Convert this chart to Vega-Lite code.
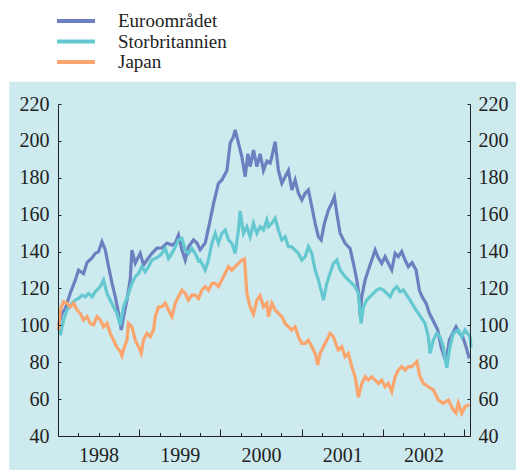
{
  "$schema": "https://vega.github.io/schema/vega-lite/v6.json",
  "width": 412,
  "height": 332,
  "autosize": {"type": "none"},
  "padding": {"left": 58, "top": 104, "right": 46, "bottom": 34},
  "background": "white",
  "config": {
    "font": "Liberation Serif",
    "view": {"stroke": null},
    "axis": {"domainColor": "#222", "tickColor": "#222", "labelFont": "Liberation Serif", "labelFontSize": 20, "labelColor": "#222", "grid": false, "labelFlush": false, "labelOverlap": false},
    "legend": {"labelFont": "Liberation Serif"}
  },
  "datasets": {
    "panel": [{"name": "panel"}],
    "series": [
{"serie":"Euroområdet","t":1998.007,"v":100},{"serie":"Euroområdet","t":1998.049,"v":106.5},{"serie":"Euroområdet","t":1998.090,"v":109},{"serie":"Euroområdet","t":1998.151,"v":117.5},{"serie":"Euroområdet","t":1998.213,"v":124.5},{"serie":"Euroområdet","t":1998.253,"v":130},{"serie":"Euroområdet","t":1998.315,"v":128},{"serie":"Euroområdet","t":1998.357,"v":134},{"serie":"Euroområdet","t":1998.418,"v":136.5},{"serie":"Euroområdet","t":1998.459,"v":139},{"serie":"Euroområdet","t":1998.499,"v":140},{"serie":"Euroområdet","t":1998.541,"v":145.3},{"serie":"Euroområdet","t":1998.582,"v":141},{"serie":"Euroområdet","t":1998.622,"v":131.8},{"serie":"Euroområdet","t":1998.664,"v":123},{"serie":"Euroområdet","t":1998.705,"v":115.5},{"serie":"Euroområdet","t":1998.745,"v":106.6},{"serie":"Euroområdet","t":1998.779,"v":97.5},{"serie":"Euroområdet","t":1998.807,"v":104.7},{"serie":"Euroområdet","t":1998.849,"v":113.7},{"serie":"Euroområdet","t":1998.889,"v":125},{"serie":"Euroområdet","t":1998.910,"v":140.8},{"serie":"Euroområdet","t":1998.951,"v":133.7},{"serie":"Euroområdet","t":1999.012,"v":139},{"serie":"Euroområdet","t":1999.053,"v":132.7},{"serie":"Euroområdet","t":1999.095,"v":135.4},{"serie":"Euroområdet","t":1999.156,"v":139},{"serie":"Euroområdet","t":1999.218,"v":141.9},{"serie":"Euroområdet","t":1999.279,"v":142},{"serie":"Euroområdet","t":1999.341,"v":144.6},{"serie":"Euroområdet","t":1999.402,"v":143.5},{"serie":"Euroområdet","t":1999.443,"v":144.6},{"serie":"Euroområdet","t":1999.483,"v":149},{"serie":"Euroområdet","t":1999.525,"v":141},{"serie":"Euroområdet","t":1999.566,"v":135.4},{"serie":"Euroområdet","t":1999.606,"v":142.6},{"serie":"Euroområdet","t":1999.668,"v":146.3},{"serie":"Euroområdet","t":1999.710,"v":144.6},{"serie":"Euroområdet","t":1999.750,"v":141},{"serie":"Euroområdet","t":1999.812,"v":144.6},{"serie":"Euroområdet","t":1999.873,"v":157},{"serie":"Euroområdet","t":1999.914,"v":166},{"serie":"Euroområdet","t":1999.975,"v":177},{"serie":"Euroområdet","t":2000.017,"v":178.8},{"serie":"Euroområdet","t":2000.079,"v":184},{"serie":"Euroområdet","t":2000.119,"v":198.8},{"serie":"Euroområdet","t":2000.160,"v":202.3},{"serie":"Euroområdet","t":2000.181,"v":206},{"serie":"Euroområdet","t":2000.221,"v":198.8},{"serie":"Euroområdet","t":2000.263,"v":191.4},{"serie":"Euroområdet","t":2000.304,"v":180.6},{"serie":"Euroområdet","t":2000.337,"v":193},{"serie":"Euroområdet","t":2000.365,"v":186},{"serie":"Euroområdet","t":2000.406,"v":195},{"serie":"Euroområdet","t":2000.448,"v":186},{"serie":"Euroområdet","t":2000.488,"v":193},{"serie":"Euroområdet","t":2000.529,"v":184},{"serie":"Euroområdet","t":2000.571,"v":189},{"serie":"Euroområdet","t":2000.611,"v":188},{"serie":"Euroområdet","t":2000.632,"v":191.4},{"serie":"Euroområdet","t":2000.673,"v":199.6},{"serie":"Euroområdet","t":2000.713,"v":184},{"serie":"Euroområdet","t":2000.755,"v":177},{"serie":"Euroområdet","t":2000.796,"v":180.6},{"serie":"Euroområdet","t":2000.836,"v":184},{"serie":"Euroområdet","t":2000.878,"v":173.4},{"serie":"Euroområdet","t":2000.919,"v":178.8},{"serie":"Euroområdet","t":2000.959,"v":171.6},{"serie":"Euroområdet","t":2001.001,"v":168},{"serie":"Euroområdet","t":2001.042,"v":171.6},{"serie":"Euroområdet","t":2001.082,"v":173.4},{"serie":"Euroområdet","t":2001.124,"v":164.3},{"serie":"Euroområdet","t":2001.165,"v":155.3},{"serie":"Euroområdet","t":2001.205,"v":148},{"serie":"Euroområdet","t":2001.239,"v":146.3},{"serie":"Euroområdet","t":2001.279,"v":155.3},{"serie":"Euroområdet","t":2001.328,"v":162.5},{"serie":"Euroområdet","t":2001.370,"v":166.2},{"serie":"Euroområdet","t":2001.402,"v":169.7},{"serie":"Euroområdet","t":2001.432,"v":160.7},{"serie":"Euroområdet","t":2001.472,"v":150},{"serie":"Euroområdet","t":2001.534,"v":144.5},{"serie":"Euroområdet","t":2001.595,"v":141.7},{"serie":"Euroområdet","t":2001.636,"v":133.6},{"serie":"Euroområdet","t":2001.678,"v":124.6},{"serie":"Euroområdet","t":2001.706,"v":115.5},{"serie":"Euroområdet","t":2001.718,"v":105.6},{"serie":"Euroområdet","t":2001.739,"v":115.5},{"serie":"Euroområdet","t":2001.780,"v":124.6},{"serie":"Euroområdet","t":2001.820,"v":130},{"serie":"Euroområdet","t":2001.862,"v":135.4},{"serie":"Euroområdet","t":2001.903,"v":140.8},{"serie":"Euroområdet","t":2001.936,"v":137.2},{"serie":"Euroområdet","t":2001.985,"v":133.6},{"serie":"Euroområdet","t":2002.026,"v":137.2},{"serie":"Euroområdet","t":2002.066,"v":133.6},{"serie":"Euroområdet","t":2002.108,"v":130},{"serie":"Euroområdet","t":2002.149,"v":139},{"serie":"Euroområdet","t":2002.189,"v":137.2},{"serie":"Euroområdet","t":2002.231,"v":140},{"serie":"Euroområdet","t":2002.272,"v":135.4},{"serie":"Euroområdet","t":2002.312,"v":131.8},{"serie":"Euroområdet","t":2002.358,"v":134},{"serie":"Euroområdet","t":2002.407,"v":130},{"serie":"Euroområdet","t":2002.448,"v":119},{"serie":"Euroområdet","t":2002.487,"v":115},{"serie":"Euroområdet","t":2002.530,"v":112},{"serie":"Euroområdet","t":2002.571,"v":106.5},{"serie":"Euroområdet","t":2002.613,"v":102.9},{"serie":"Euroområdet","t":2002.674,"v":97.5},{"serie":"Euroområdet","t":2002.715,"v":88.4},{"serie":"Euroområdet","t":2002.755,"v":83},{"serie":"Euroområdet","t":2002.776,"v":80},{"serie":"Euroområdet","t":2002.817,"v":92},{"serie":"Euroområdet","t":2002.859,"v":95.7},{"serie":"Euroområdet","t":2002.899,"v":99.2},{"serie":"Euroområdet","t":2002.940,"v":95.7},{"serie":"Euroområdet","t":2002.982,"v":93.8},{"serie":"Euroområdet","t":2003.022,"v":88.4},{"serie":"Euroområdet","t":2003.063,"v":82},
{"serie":"Storbritannien","t":1998.007,"v":99.2},{"serie":"Storbritannien","t":1998.028,"v":94.7},{"serie":"Storbritannien","t":1998.069,"v":102.9},{"serie":"Storbritannien","t":1998.111,"v":108.3},{"serie":"Storbritannien","t":1998.172,"v":112},{"serie":"Storbritannien","t":1998.213,"v":113.7},{"serie":"Storbritannien","t":1998.253,"v":114.6},{"serie":"Storbritannien","t":1998.295,"v":116.4},{"serie":"Storbritannien","t":1998.336,"v":115.5},{"serie":"Storbritannien","t":1998.376,"v":117.3},{"serie":"Storbritannien","t":1998.418,"v":115.5},{"serie":"Storbritannien","t":1998.459,"v":118.2},{"serie":"Storbritannien","t":1998.520,"v":121},{"serie":"Storbritannien","t":1998.561,"v":124.6},{"serie":"Storbritannien","t":1998.603,"v":117.3},{"serie":"Storbritannien","t":1998.643,"v":113.7},{"serie":"Storbritannien","t":1998.684,"v":110},{"serie":"Storbritannien","t":1998.726,"v":106.5},{"serie":"Storbritannien","t":1998.766,"v":100},{"serie":"Storbritannien","t":1998.807,"v":110},{"serie":"Storbritannien","t":1998.849,"v":115},{"serie":"Storbritannien","t":1998.889,"v":120},{"serie":"Storbritannien","t":1998.910,"v":122.8},{"serie":"Storbritannien","t":1998.951,"v":126.4},{"serie":"Storbritannien","t":1998.991,"v":128.2},{"serie":"Storbritannien","t":1999.033,"v":131.8},{"serie":"Storbritannien","t":1999.074,"v":129},{"serie":"Storbritannien","t":1999.114,"v":131.8},{"serie":"Storbritannien","t":1999.156,"v":135.4},{"serie":"Storbritannien","t":1999.197,"v":136.3},{"serie":"Storbritannien","t":1999.237,"v":137.2},{"serie":"Storbritannien","t":1999.279,"v":139},{"serie":"Storbritannien","t":1999.320,"v":141.7},{"serie":"Storbritannien","t":1999.360,"v":136.3},{"serie":"Storbritannien","t":1999.402,"v":139},{"serie":"Storbritannien","t":1999.443,"v":142.6},{"serie":"Storbritannien","t":1999.483,"v":146.3},{"serie":"Storbritannien","t":1999.525,"v":147.2},{"serie":"Storbritannien","t":1999.566,"v":140.8},{"serie":"Storbritannien","t":1999.606,"v":139},{"serie":"Storbritannien","t":1999.648,"v":141.7},{"serie":"Storbritannien","t":1999.689,"v":139},{"serie":"Storbritannien","t":1999.729,"v":135},{"serie":"Storbritannien","t":1999.750,"v":135.4},{"serie":"Storbritannien","t":1999.812,"v":130},{"serie":"Storbritannien","t":1999.852,"v":135.4},{"serie":"Storbritannien","t":1999.894,"v":144.5},{"serie":"Storbritannien","t":1999.935,"v":149.9},{"serie":"Storbritannien","t":1999.975,"v":144.5},{"serie":"Storbritannien","t":2000.017,"v":149.9},{"serie":"Storbritannien","t":2000.058,"v":151.7},{"serie":"Storbritannien","t":2000.098,"v":146.3},{"serie":"Storbritannien","t":2000.140,"v":144.5},{"serie":"Storbritannien","t":2000.181,"v":139},{"serie":"Storbritannien","t":2000.221,"v":151.7},{"serie":"Storbritannien","t":2000.242,"v":162},{"serie":"Storbritannien","t":2000.283,"v":149.9},{"serie":"Storbritannien","t":2000.325,"v":153.5},{"serie":"Storbritannien","t":2000.365,"v":148},{"serie":"Storbritannien","t":2000.406,"v":155.3},{"serie":"Storbritannien","t":2000.448,"v":149.9},{"serie":"Storbritannien","t":2000.488,"v":153.5},{"serie":"Storbritannien","t":2000.529,"v":151.7},{"serie":"Storbritannien","t":2000.571,"v":157.1},{"serie":"Storbritannien","t":2000.590,"v":153.5},{"serie":"Storbritannien","t":2000.632,"v":155.3},{"serie":"Storbritannien","t":2000.673,"v":158},{"serie":"Storbritannien","t":2000.713,"v":151.7},{"serie":"Storbritannien","t":2000.755,"v":146.3},{"serie":"Storbritannien","t":2000.796,"v":148},{"serie":"Storbritannien","t":2000.836,"v":142.6},{"serie":"Storbritannien","t":2000.878,"v":142.6},{"serie":"Storbritannien","t":2000.919,"v":140.8},{"serie":"Storbritannien","t":2000.959,"v":139},{"serie":"Storbritannien","t":2001.001,"v":135.4},{"serie":"Storbritannien","t":2001.042,"v":137.2},{"serie":"Storbritannien","t":2001.082,"v":142.6},{"serie":"Storbritannien","t":2001.124,"v":139},{"serie":"Storbritannien","t":2001.165,"v":130},{"serie":"Storbritannien","t":2001.205,"v":124.6},{"serie":"Storbritannien","t":2001.247,"v":117.3},{"serie":"Storbritannien","t":2001.267,"v":113.7},{"serie":"Storbritannien","t":2001.309,"v":122.8},{"serie":"Storbritannien","t":2001.349,"v":128.2},{"serie":"Storbritannien","t":2001.390,"v":133.6},{"serie":"Storbritannien","t":2001.432,"v":135.4},{"serie":"Storbritannien","t":2001.472,"v":130},{"serie":"Storbritannien","t":2001.534,"v":126.4},{"serie":"Storbritannien","t":2001.574,"v":124.6},{"serie":"Storbritannien","t":2001.616,"v":122.8},{"serie":"Storbritannien","t":2001.657,"v":121},{"serie":"Storbritannien","t":2001.697,"v":117.3},{"serie":"Storbritannien","t":2001.730,"v":101},{"serie":"Storbritannien","t":2001.759,"v":110},{"serie":"Storbritannien","t":2001.801,"v":113.7},{"serie":"Storbritannien","t":2001.841,"v":115.5},{"serie":"Storbritannien","t":2001.882,"v":117.3},{"serie":"Storbritannien","t":2001.924,"v":119.1},{"serie":"Storbritannien","t":2001.964,"v":120},{"serie":"Storbritannien","t":2002.005,"v":119.1},{"serie":"Storbritannien","t":2002.047,"v":117.3},{"serie":"Storbritannien","t":2002.087,"v":115.5},{"serie":"Storbritannien","t":2002.128,"v":119.1},{"serie":"Storbritannien","t":2002.170,"v":121},{"serie":"Storbritannien","t":2002.210,"v":118.2},{"serie":"Storbritannien","t":2002.251,"v":119.1},{"serie":"Storbritannien","t":2002.293,"v":116.4},{"serie":"Storbritannien","t":2002.333,"v":113.7},{"serie":"Storbritannien","t":2002.382,"v":110},{"serie":"Storbritannien","t":2002.435,"v":106.5},{"serie":"Storbritannien","t":2002.518,"v":101},{"serie":"Storbritannien","t":2002.558,"v":93.8},{"serie":"Storbritannien","t":2002.579,"v":84.8},{"serie":"Storbritannien","t":2002.620,"v":92},{"serie":"Storbritannien","t":2002.662,"v":95.7},{"serie":"Storbritannien","t":2002.702,"v":93.8},{"serie":"Storbritannien","t":2002.743,"v":88.4},{"serie":"Storbritannien","t":2002.785,"v":77},{"serie":"Storbritannien","t":2002.825,"v":88.4},{"serie":"Storbritannien","t":2002.866,"v":95.7},{"serie":"Storbritannien","t":2002.927,"v":97.5},{"serie":"Storbritannien","t":2002.969,"v":93.8},{"serie":"Storbritannien","t":2003.010,"v":97.5},{"serie":"Storbritannien","t":2003.071,"v":93.8},{"serie":"Storbritannien","t":2003.085,"v":88},
{"serie":"Japan","t":1998.007,"v":97.5},{"serie":"Japan","t":1998.028,"v":108.3},{"serie":"Japan","t":1998.069,"v":112.8},{"serie":"Japan","t":1998.111,"v":112},{"serie":"Japan","t":1998.151,"v":110},{"serie":"Japan","t":1998.192,"v":112},{"serie":"Japan","t":1998.234,"v":108.3},{"serie":"Japan","t":1998.274,"v":106.5},{"serie":"Japan","t":1998.315,"v":102.9},{"serie":"Japan","t":1998.357,"v":104.7},{"serie":"Japan","t":1998.397,"v":101},{"serie":"Japan","t":1998.438,"v":100.2},{"serie":"Japan","t":1998.480,"v":104.7},{"serie":"Japan","t":1998.520,"v":102.9},{"serie":"Japan","t":1998.561,"v":99.2},{"serie":"Japan","t":1998.603,"v":101},{"serie":"Japan","t":1998.643,"v":95.6},{"serie":"Japan","t":1998.684,"v":92},{"serie":"Japan","t":1998.726,"v":88},{"serie":"Japan","t":1998.766,"v":86},{"serie":"Japan","t":1998.787,"v":83.5},{"serie":"Japan","t":1998.815,"v":88},{"serie":"Japan","t":1998.849,"v":92},{"serie":"Japan","t":1998.868,"v":101},{"serie":"Japan","t":1998.910,"v":99.2},{"serie":"Japan","t":1998.951,"v":92},{"serie":"Japan","t":1998.991,"v":88.4},{"serie":"Japan","t":1999.025,"v":84.8},{"serie":"Japan","t":1999.053,"v":92},{"serie":"Japan","t":1999.095,"v":95.7},{"serie":"Japan","t":1999.135,"v":93.8},{"serie":"Japan","t":1999.176,"v":97.5},{"serie":"Japan","t":1999.197,"v":104.7},{"serie":"Japan","t":1999.237,"v":110},{"serie":"Japan","t":1999.279,"v":110},{"serie":"Japan","t":1999.320,"v":112},{"serie":"Japan","t":1999.360,"v":108.3},{"serie":"Japan","t":1999.402,"v":104.7},{"serie":"Japan","t":1999.443,"v":112},{"serie":"Japan","t":1999.483,"v":115.5},{"serie":"Japan","t":1999.525,"v":119.1},{"serie":"Japan","t":1999.566,"v":117.3},{"serie":"Japan","t":1999.606,"v":113.7},{"serie":"Japan","t":1999.648,"v":116.4},{"serie":"Japan","t":1999.689,"v":116.4},{"serie":"Japan","t":1999.729,"v":114.5},{"serie":"Japan","t":1999.771,"v":119.1},{"serie":"Japan","t":1999.812,"v":121},{"serie":"Japan","t":1999.852,"v":119.1},{"serie":"Japan","t":1999.894,"v":122.8},{"serie":"Japan","t":1999.935,"v":122.8},{"serie":"Japan","t":1999.975,"v":121},{"serie":"Japan","t":2000.017,"v":124.6},{"serie":"Japan","t":2000.058,"v":128.2},{"serie":"Japan","t":2000.098,"v":131.8},{"serie":"Japan","t":2000.140,"v":130},{"serie":"Japan","t":2000.181,"v":131.8},{"serie":"Japan","t":2000.221,"v":133.6},{"serie":"Japan","t":2000.263,"v":135.4},{"serie":"Japan","t":2000.295,"v":136},{"serie":"Japan","t":2000.325,"v":117.3},{"serie":"Japan","t":2000.365,"v":110},{"serie":"Japan","t":2000.406,"v":106},{"serie":"Japan","t":2000.448,"v":113.7},{"serie":"Japan","t":2000.488,"v":116},{"serie":"Japan","t":2000.529,"v":110},{"serie":"Japan","t":2000.571,"v":112},{"serie":"Japan","t":2000.590,"v":104.7},{"serie":"Japan","t":2000.632,"v":112},{"serie":"Japan","t":2000.673,"v":108.3},{"serie":"Japan","t":2000.713,"v":106.5},{"serie":"Japan","t":2000.755,"v":104.7},{"serie":"Japan","t":2000.796,"v":101},{"serie":"Japan","t":2000.836,"v":99.2},{"serie":"Japan","t":2000.878,"v":97.5},{"serie":"Japan","t":2000.919,"v":99.2},{"serie":"Japan","t":2000.959,"v":93.8},{"serie":"Japan","t":2001.001,"v":90.2},{"serie":"Japan","t":2001.042,"v":90.2},{"serie":"Japan","t":2001.082,"v":92},{"serie":"Japan","t":2001.124,"v":88.4},{"serie":"Japan","t":2001.165,"v":84.8},{"serie":"Japan","t":2001.198,"v":78.5},{"serie":"Japan","t":2001.226,"v":84.8},{"serie":"Japan","t":2001.267,"v":88.4},{"serie":"Japan","t":2001.309,"v":92},{"serie":"Japan","t":2001.349,"v":95.7},{"serie":"Japan","t":2001.390,"v":93.8},{"serie":"Japan","t":2001.432,"v":88.4},{"serie":"Japan","t":2001.451,"v":86.6},{"serie":"Japan","t":2001.493,"v":88.4},{"serie":"Japan","t":2001.534,"v":83},{"serie":"Japan","t":2001.574,"v":84.8},{"serie":"Japan","t":2001.616,"v":77.6},{"serie":"Japan","t":2001.657,"v":72.1},{"serie":"Japan","t":2001.697,"v":61},{"serie":"Japan","t":2001.739,"v":68.5},{"serie":"Japan","t":2001.780,"v":72.1},{"serie":"Japan","t":2001.820,"v":70.3},{"serie":"Japan","t":2001.862,"v":72.1},{"serie":"Japan","t":2001.903,"v":70.3},{"serie":"Japan","t":2001.944,"v":68.5},{"serie":"Japan","t":2001.985,"v":70.3},{"serie":"Japan","t":2002.026,"v":66.7},{"serie":"Japan","t":2002.066,"v":68.5},{"serie":"Japan","t":2002.108,"v":64},{"serie":"Japan","t":2002.149,"v":72.1},{"serie":"Japan","t":2002.189,"v":75.7},{"serie":"Japan","t":2002.231,"v":77.6},{"serie":"Japan","t":2002.272,"v":75.7},{"serie":"Japan","t":2002.312,"v":77.6},{"serie":"Japan","t":2002.354,"v":77.6},{"serie":"Japan","t":2002.416,"v":80.3},{"serie":"Japan","t":2002.456,"v":72.1},{"serie":"Japan","t":2002.497,"v":68.5},{"serie":"Japan","t":2002.558,"v":66.7},{"serie":"Japan","t":2002.620,"v":65},{"serie":"Japan","t":2002.681,"v":59.5},{"serie":"Japan","t":2002.743,"v":57.7},{"serie":"Japan","t":2002.804,"v":59.5},{"serie":"Japan","t":2002.866,"v":54.1},{"serie":"Japan","t":2002.899,"v":52.5},{"serie":"Japan","t":2002.927,"v":57.7},{"serie":"Japan","t":2002.969,"v":52.3},{"serie":"Japan","t":2003.010,"v":55.9},{"serie":"Japan","t":2003.063,"v":57}
    ]
  },
  "layer": [
    {
      "data": {"name": "panel"},
      "mark": {"type": "rect", "color": "#cdeaee"},
      "encoding": {
        "x": {"datum": 1997.4, "type": "quantitative", "scale": {"domain": [1998, 2003.071]}, "axis": null},
        "x2": {"datum": 2004},
        "y": {"datum": 232, "type": "quantitative", "scale": {"domain": [40, 220]}, "axis": null},
        "y2": {"datum": 10}
      }
    },
    {
      "data": {"name": "series"},
      "mark": {"type": "line", "strokeWidth": 3.2},
      "encoding": {
        "x": {
          "field": "t", "type": "quantitative", "title": null,
          "scale": {"domain": [1998, 2003.071]},
          "axis": {
            "orient": "bottom", "zindex": 2,
            "values": [1998, 1998.25, 1998.5, 1998.75, 1999, 1999.25, 1999.5, 1999.75, 2000, 2000.25, 2000.5, 2000.75, 2001, 2001.25, 2001.5, 2001.75, 2002, 2002.25, 2002.5, 2002.75, 2003],
            "labelExpr": "datum.value % 1 == 0.5 ? format(floor(datum.value), 'd') : ''",
            "tickSize": -3.5,
            "labelPadding": 13
          }
        },
        "y": {
          "field": "v", "type": "quantitative", "title": null,
          "scale": {"domain": [40, 220]},
          "axis": {"orient": "left", "zindex": 2, "values": [40, 60, 80, 100, 120, 140, 160, 180, 200, 220], "tickSize": -3, "labelPadding": 12}
        },
        "color": {
          "field": "serie", "type": "nominal",
          "scale": {"domain": ["Euroområdet", "Storbritannien", "Japan"], "range": ["#6c80c0", "#64c8d0", "#faa56e"]},
          "legend": {
            "orient": "none", "direction": "vertical", "legendX": -3, "legendY": -91.75, "title": null,
            "symbolType": "stroke", "symbolSize": 1444, "symbolStrokeWidth": 4, "clipHeight": 17.5, "rowPadding": 0.5,
            "labelOffset": 21, "labelFont": "Liberation Serif", "labelFontSize": 19, "labelColor": "#222", "padding": 0, "labelLimit": 300
          }
        }
      }
    },
    {
      "data": {"name": "series"},
      "mark": {"type": "line", "opacity": 0},
      "encoding": {
        "x": {
          "field": "t", "type": "quantitative", "title": null,
          "scale": {"domain": [1998, 2003.071]},
          "axis": {"orient": "bottom", "zindex": 2, "values": [1999, 2000, 2001, 2002, 2003], "tickSize": -7, "labels": false, "domain": false}
        },
        "y": {
          "field": "v", "type": "quantitative", "title": null,
          "scale": {"domain": [40, 220]},
          "axis": {"orient": "right", "zindex": 2, "values": [40, 60, 80, 100, 120, 140, 160, 180, 200, 220], "tickSize": -3, "labelPadding": 11}
        },
        "detail": {"field": "serie"}
      }
    }
  ],
  "resolve": {"axis": {"x": "independent", "y": "independent"}}
}
